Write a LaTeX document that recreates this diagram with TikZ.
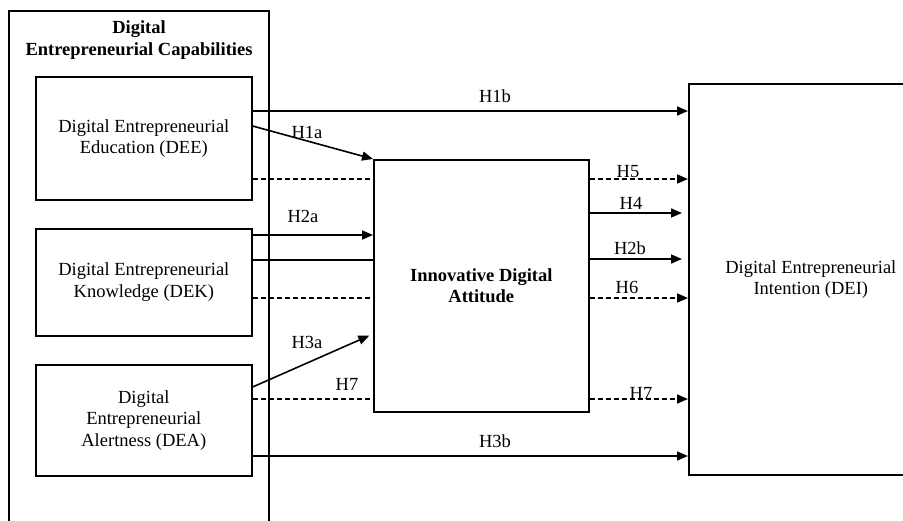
\documentclass[tikz,border=0pt]{standalone}
\usepackage{fontspec}
\setmainfont{Liberation Serif}
\usetikzlibrary{arrows.meta}
\begin{document}
\begin{tikzpicture}[x=1pt,y=-1pt,
  box/.style={draw, line width=1.6pt, inner sep=0pt, anchor=north west, align=center, font=\fontsize{18.5}{21.5}\selectfont},
  lbl/.style={inner sep=0pt, font=\fontsize{18.5}{21.5}\selectfont},
  conn/.style={line width=1.6pt},
  arr/.style={conn, -{Triangle[length=11pt,width=9pt]}},
  dsh/.style={dash pattern=on 5pt off 3pt}]
\useasboundingbox (0,0) rectangle (903,520);
\clip (0,0) rectangle (903,520);
\fill[white] (0,0) rectangle (903,520);
% boxes
\node[box, minimum width=260pt, minimum height=540pt] (outer) at (8,10) {};
\node[lbl, font=\bfseries\fontsize{18.5}{21.5}\selectfont, align=center] (title) at (139,40) {Digital\\Entrepreneurial Capabilities};
\node[box, minimum width=216pt, minimum height=123pt] (dee) at (35,76) {Digital Entrepreneurial\\Education (DEE)};
\node[box, minimum width=216pt, minimum height=107pt] (dek) at (35,228) {Digital Entrepreneurial\\Knowledge (DEK)};
\node[box, minimum width=216pt, minimum height=111pt] (dea) at (35,364) {Digital\\Entrepreneurial\\Alertness (DEA)};
\node[box, minimum width=215pt, minimum height=252pt, font=\bfseries\fontsize{18.5}{21.5}\selectfont] (ida) at (373,159) {Innovative Digital\\Attitude};
\node[box, minimum width=244pt, minimum height=391pt] (dei) at (688,83) {Digital Entrepreneurial\\Intention (DEI)};
% left connectors
\draw[arr] (dee.east |- 0,111) -- (dei.west |- 0,111);
\draw[arr] (dee.east |- 0,126) -- (ida.north west);
\draw[conn,dsh] (dee.east |- 0,179) -- (ida.west |- 0,179);
\draw[arr] (dek.east |- 0,235) -- (ida.west |- 0,235);
\draw[conn] (dek.east |- 0,260) -- (ida.west |- 0,260);
\draw[conn,dsh] (dek.east |- 0,298) -- (ida.west |- 0,298);
\draw[arr, shorten >=4pt] (dea.east |- 0,387) -- (ida.west |- 0,334);
\draw[conn,dsh] (dea.east |- 0,399) -- (ida.west |- 0,399);
\draw[arr] (dea.east |- 0,456) -- (dei.west |- 0,456);
% right connectors
\draw[arr,dsh] (ida.east |- 0,179) -- (dei.west |- 0,179);
\draw[arr, shorten >=6pt] (ida.east |- 0,213) -- (dei.west |- 0,213);
\draw[arr, shorten >=6pt] (ida.east |- 0,259) -- (dei.west |- 0,259);
\draw[arr,dsh] (ida.east |- 0,298) -- (dei.west |- 0,298);
\draw[arr,dsh] (ida.east |- 0,399) -- (dei.west |- 0,399);
% labels
\node[lbl] (h1b) at (495,96) {H1b};
\node[lbl] (h1a) at (307,132) {H1a};
\node[lbl] (h2a) at (303,216) {H2a};
\node[lbl] (h3a) at (307,342) {H3a};
\node[lbl] (h7l) at (347,384) {H7};
\node[lbl] (h5) at (628,172) {H5};
\node[lbl] (h4) at (631,203) {H4};
\node[lbl] (h2b) at (630,248) {H2b};
\node[lbl] (h6) at (627,287) {H6};
\node[lbl] (h7r) at (641,393) {H7};
\node[lbl] (h3b) at (495,441) {H3b};
\end{tikzpicture}
\end{document}
